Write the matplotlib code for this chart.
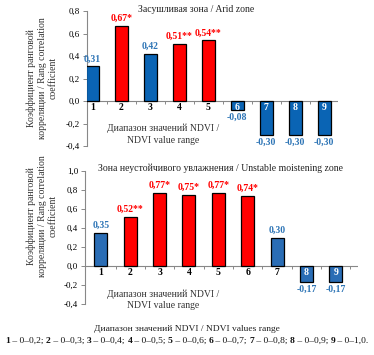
import numpy as np
import matplotlib.pyplot as plt

plt.rcParams['font.family'] = ['Liberation Serif', 'DejaVu Serif']

cats = ['1', '2', '3', '4', '5', '6', '7', '8', '9']

# Arid zone
arid_vals = [0.31, 0.67, 0.42, 0.51, 0.54, -0.08, -0.30, -0.30, -0.30]
arid_labels = ['0,31', '0,67*', '0,42', '0,51**', '0,54**', '-0,08', '-0,30', '-0,30', '-0,30']
arid_sig = [0, 1, 0, 1, 1, 0, 0, 0, 0]

# Unstable moistening zone
unst_vals = [0.35, 0.52, 0.77, 0.75, 0.77, 0.74, 0.30, -0.17, -0.17]
unst_labels = ['0,35', '0,52**', '0,77*', '0,75*', '0,77*', '0,74*', '0,30', '-0,17', '-0,17']
unst_sig = [0, 1, 1, 1, 1, 1, 0, 0, 0]

ranges = ['0–0,2', '0–0,3', '0–0,4', '0–0,5', '0–0,6', '0–0,7', '0–0,8', '0–0,9', '0–1,0']

ylabel = 'Коэффициент ранговой\nкорреляции / Rang correlation\ncoefficient'
xlabel = 'Диапазон значений NDVI /\nNDVI value range'

W, H = 374, 355
fig = plt.figure(figsize=(W / 100, H / 100), dpi=100)


def px_axes(left, right, top, bottom):
    return fig.add_axes([left / W, 1 - bottom / H, (right - left) / W, (bottom - top) / H])


def panel(ax, vals, labels, sig, blue, ylim, yticks, xlim):
    x = np.arange(1, len(vals) + 1)
    colors = ['#ff0000' if s else blue for s in sig]
    ax.bar(x, vals, width=0.44, color=colors, edgecolor='black', linewidth=0.9, zorder=3)
    ax.set_xlim(*xlim)
    ax.set_ylim(*ylim)
    ax.set_yticks(yticks)
    ax.set_yticklabels([('%.1f' % t).replace('.', ',') for t in yticks])
    ax.tick_params(axis='y', labelsize=6.5, length=3, width=0.7, color='#888888', pad=2)
    ax.set_xticks([])
    for s in ['top', 'right', 'bottom']:
        ax.spines[s].set_visible(False)
    ax.spines['left'].set_color('#888888')
    ax.spines['left'].set_linewidth(0.8)
    ax.axhline(0, color='#888888', lw=0.8, zorder=2)
    tl = (ylim[1] - ylim[0]) * 0.022
    ax.vlines(np.arange(1.5, 10, 1.0), -tl, 0, color='#888888', lw=0.7, zorder=2)
    for xi, v, lab, s, c in zip(x, vals, labels, sig, cats):
        col = '#ff0000' if s else '#2e75b6'
        if v >= 0:
            ax.annotate(lab, (xi, v), xytext=(0, 2), textcoords='offset points',
                        ha='center', va='bottom', fontsize=7, fontweight='bold', color=col)
            ax.annotate(c, (xi, 0), xytext=(0, -1.5), textcoords='offset points',
                        ha='center', va='top', fontsize=7, fontweight='bold', color='black', zorder=4)
        else:
            ax.annotate(lab, (xi, v), xytext=(0, -2), textcoords='offset points',
                        ha='center', va='top', fontsize=7, fontweight='bold', color='#2e75b6')
            ax.annotate(c, (xi, 0), xytext=(0, -1.5), textcoords='offset points',
                        ha='center', va='top', fontsize=7, fontweight='bold', color='white', zorder=4)


ax1 = px_axes(86.7, 337.8, 11, 146)
panel(ax1, arid_vals, arid_labels, arid_sig, '#0a64b4', (-0.4, 0.8),
      [-0.4, -0.2, 0.0, 0.2, 0.4, 0.6, 0.8], (0.81, 9.47))

ax2 = px_axes(85, 357.8, 171, 304)
panel(ax2, unst_vals, unst_labels, unst_sig, '#2a6db5', (-0.4, 1.0),
      [-0.4, -0.2, 0.0, 0.2, 0.4, 0.6, 0.8, 1.0], (0.46, 9.75))

# titles
fig.text(196 / W, 1 - 10 / H, 'Засушливая зона / Arid zone', ha='center', va='center',
         fontsize=7, color='#222222')
fig.text(220 / W, 1 - 168 / H, 'Зона неустойчивого увлажнения / Unstable moistening zone',
         ha='center', va='center', fontsize=7, color='#222222')

# y labels
fig.text(42 / W, 1 - 78 / H, ylabel, rotation=90, ha='center', va='center', fontsize=7,
         linespacing=1.3, color='#333333')
fig.text(42 / W, 1 - 216 / H, ylabel, rotation=90, ha='center', va='center', fontsize=7,
         linespacing=1.3, color='#333333')

# x labels inside plots
fig.text(163 / W, 1 - 134.5 / H, xlabel, ha='center', va='center', fontsize=7,
         linespacing=1.45, color='#333333')
fig.text(163 / W, 1 - 300 / H, xlabel, ha='center', va='center', fontsize=7,
         linespacing=1.35, color='#333333')

# footer
fig.text(187 / W, 1 - 329 / H, 'Диапазон значений NDVI / NDVI values range', ha='center',
         va='center', fontsize=6.8, color='#222222')

pieces = []
for i, (c, r) in enumerate(zip(cats, ranges)):
    end = '.' if i == len(cats) - 1 else '; '
    pieces.append((c, 'bold'))
    pieces.append((' – ' + r + end, 'normal'))

renderer = fig.canvas.get_renderer()
texts = []
widths = []
for s, w in pieces:
    t = fig.text(0, 1 - 341 / H, s, ha='left', va='center', fontsize=6.8, fontweight=w,
                 color='#111111')
    bb = t.get_window_extent(renderer)
    texts.append(t)
    widths.append(bb.width)
total = sum(widths)
xpos = (W - total) / 2
for t, w in zip(texts, widths):
    t.set_x(xpos / W)
    xpos += w

fig.savefig('out.png', dpi=100)
